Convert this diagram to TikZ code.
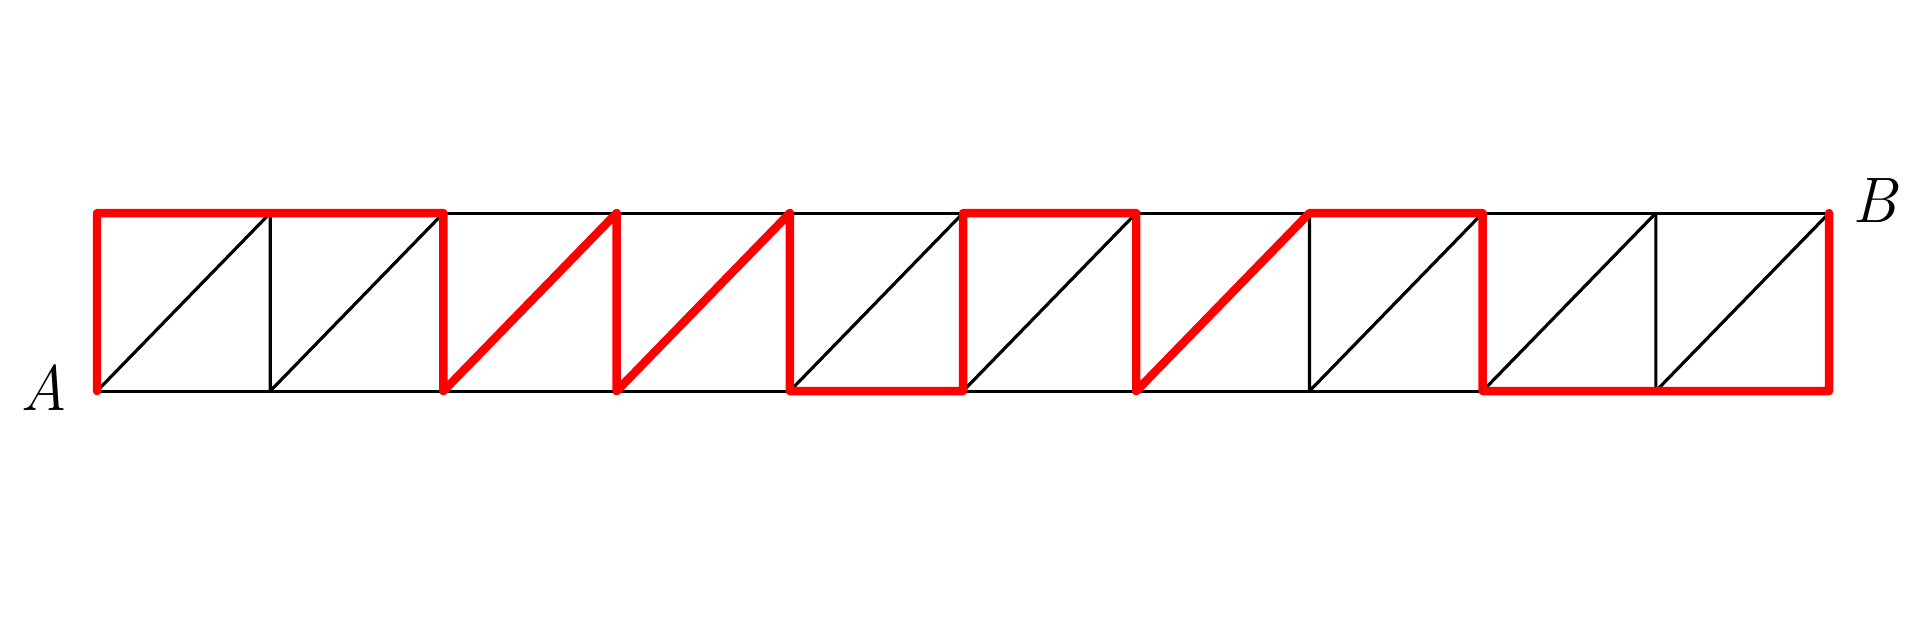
\documentclass[tikz,border=0pt]{standalone}
\usepackage{fontspec}
\usetikzlibrary{positioning}
\tikzset{
  gridline/.style={black, line width=0.9pt},
  pathline/.style={red, line width=2.4pt, line cap=round, line join=round},
  endlabel/.style={inner sep=0pt, font=\fontsize{18.3}{22}\selectfont\itshape}
}
\begin{document}
\begin{tikzpicture}[x=1.732cm, y=1.78cm]

  \useasboundingbox (-0.56,-1.343) rectangle (10.525,2.197);

  % Grid points
  \foreach \i in {0,...,10} {
    \coordinate (b\i) at (\i,0);
    \coordinate (t\i) at (\i,1);
  }

  % Squares with diagonals
  \draw[gridline] (b0) -- (b10) (t0) -- (t10);
  \foreach \i [evaluate=\i as \j using int(\i+1)] in {0,...,9}
    \draw[gridline] (b\i) -- (t\i) (b\i) -- (t\j);
  \draw[gridline] (b10) -- (t10);

  % Path from A to B
  \draw[pathline] (b0) -- (t0) -- (t2) -- (b2) -- (t3) -- (b3) -- (t4) -- (b4)
    -- (b5) -- (t5) -- (t6) -- (b6) -- (t7) -- (t8) -- (b8) -- (b10) -- (t10);

  % End labels
  \node[endlabel, left=0.29cm of b0, yshift=0.04cm] (A) {A};
  \node[endlabel, right=0.23cm of t10, yshift=0.13cm] (B) {B};

\end{tikzpicture}
\end{document}
